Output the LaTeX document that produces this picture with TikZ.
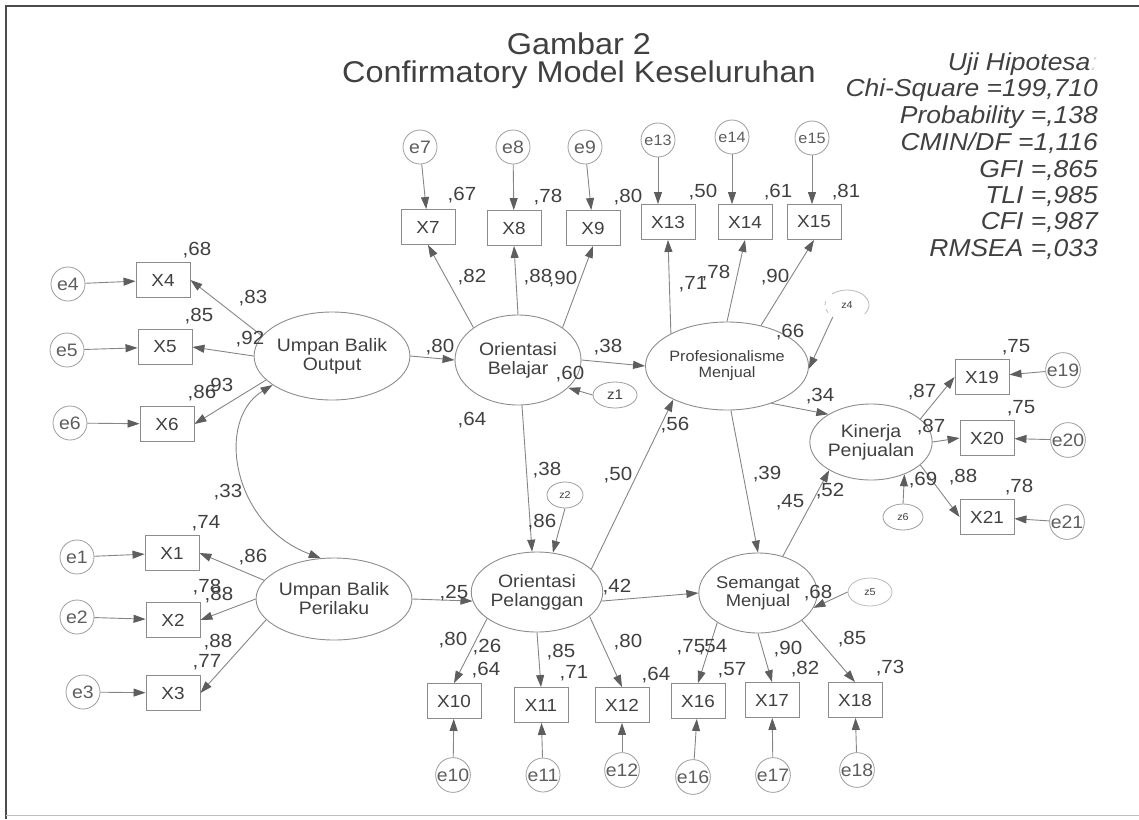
\documentclass[tikz,border=0pt]{standalone}
\usepackage{fontspec}
\setmainfont[FakeStretch=1.08]{Liberation Sans}
\usetikzlibrary{shapes.geometric,arrows.meta}
\definecolor{txt}{HTML}{404040}
\definecolor{ln}{HTML}{858585}
\definecolor{hd}{HTML}{5E5E5E}
\definecolor{bd}{HTML}{8C8C8C}
\begin{document}
\begin{tikzpicture}[x=1pt,y=-1pt,
 box/.style={draw=bd, line width=0.9pt, minimum width=54pt, minimum height=35pt, inner sep=0pt, font=\fontsize{17.5}{18}\selectfont, text=txt},
 err/.style={circle, draw=bd!85, line width=0.8pt, minimum size=34pt, inner sep=0pt, font=\fontsize{18}{18}\selectfont, text=txt!85},
 lat/.style={ellipse, draw=bd, line width=0.9pt, inner sep=0pt, align=center, font=\fontsize{18}{19}\selectfont, text=txt},
 res/.style={ellipse, draw=bd!85, line width=0.8pt, inner sep=0pt, font=\fontsize{10}{10}\selectfont, text=txt},
 lab/.style={inner sep=0pt, text height=14pt, text depth=0pt, font=\fontsize{19}{19}\selectfont, text=txt},
 stat/.style={inner sep=0pt, anchor=base east, font=\fontsize{24.5}{25}\selectfont\itshape, text=txt},
 arr/.style={draw=ln, line width=0.9pt, -{Triangle[length=12pt,width=8pt,color=hd]}},
 dblarr/.style={draw=ln, line width=0.9pt, {Triangle[length=12pt,width=8pt,color=hd]}-{Triangle[length=12pt,width=8pt,color=hd]}}
 ]
\useasboundingbox (0,0) rectangle (1139,819);
% frame
\draw[draw=black!70, line width=1.6pt] (1139,6) -- (6,6) -- (6,819);
\draw[draw=black!25, line width=1pt] (6,815) -- (1139,815);

% title
\node[inner sep=0pt, anchor=base, font=\fontsize{30}{30}\selectfont, text=txt] (t1) at (579,54) {Gambar 2};
\node[inner sep=0pt, anchor=base, font=\fontsize{30}{30}\selectfont, text=txt] (t2) at (579,82) {Confirmatory Model Keseluruhan};

% statistics
\node[stat] (s1) at (1098,70) {Uji Hipotesa\textcolor{black!15}{ :}};
\node[stat] (s2) at (1098,96) {Chi-Square =199,710};
\node[stat] (s3) at (1098,123) {Probability =,138};
\node[stat] (s4) at (1098,150) {CMIN/DF =1,116};
\node[stat] (s5) at (1098,177) {GFI =,865};
\node[stat] (s6) at (1098,203) {TLI =,985};
\node[stat] (s7) at (1098,229) {CFI =,987};
\node[stat] (s8) at (1098,256) {RMSEA =,033};

% observed boxes
\node[box] (X4) at (163,280) {X4};
\node[box] (X5) at (165,347) {X5};
\node[box] (X6) at (167,424) {X6};
\node[box] (X1) at (172,553) {X1};
\node[box] (X2) at (173,620) {X2};
\node[box] (X3) at (173,693) {X3};
\node[box] (X7) at (428,227) {X7};
\node[box] (X8) at (514,228) {X8};
\node[box] (X9) at (593,228) {X9};
\node[box] (X13) at (668,222) {X13};
\node[box] (X14) at (745,222) {X14};
\node[box] (X15) at (814,222) {X15};
\node[box] (X19) at (982,377) {X19};
\node[box] (X20) at (987,438) {X20};
\node[box] (X21) at (987,517) {X21};
\node[box] (X10) at (454,701) {X10};
\node[box] (X11) at (541,705) {X11};
\node[box] (X12) at (622,705) {X12};
\node[box] (X16) at (698,701) {X16};
\node[box] (X17) at (772,700) {X17};
\node[box] (X18) at (855,700) {X18};

% error circles
\node[err] (e4) at (68,284) {e4};
\node[err] (e5) at (67,350) {e5};
\node[err] (e6) at (70,423) {e6};
\node[err] (e1) at (77,557) {e1};
\node[err] (e2) at (77,617) {e2};
\node[err] (e3) at (83,692) {e3};
\node[err] (e7) at (420,147) {e7};
\node[err] (e8) at (513,147) {e8};
\node[err] (e9) at (585,147) {e9};
\node[err, font=\fontsize{15}{15}\selectfont] (e13) at (658,140) {e13};
\node[err, font=\fontsize{15}{15}\selectfont] (e14) at (732,137) {e14};
\node[err, font=\fontsize{15}{15}\selectfont] (e15) at (812,138) {e15};
\node[err] (e19) at (1063,370) {e19};
\node[err] (e20) at (1068,440) {e20};
\node[err] (e21) at (1067,522) {e21};
\node[err] (e10) at (453,775) {e10};
\node[err] (e11) at (543,775) {e11};
\node[err] (e12) at (622,770) {e12};
\node[err] (e16) at (693,777) {e16};
\node[err] (e17) at (773,775) {e17};
\node[err] (e18) at (857,770) {e18};

% latent variables
\node[lat, minimum width=116pt, minimum height=88pt] (UBO) at (332,356) {Umpan Balik\\Output};
\node[lat, minimum width=132pt, minimum height=82pt] (UBP) at (334,599) {Umpan Balik\\Perilaku};
\node[lat, minimum width=126pt, minimum height=90pt] (OB) at (518,360) {Orientasi\\Belajar};
\node[lat, minimum width=138pt, minimum height=88pt, font=\fontsize{15}{16}\selectfont] (PM) at (727,366) {Profesionalisme\\Menjual};
\node[lat, minimum width=126pt, minimum height=80pt] (OP) at (537,592) {Orientasi\\Pelanggan};
\node[lat, minimum width=114pt, minimum height=80pt, font=\fontsize{17}{18}\selectfont] (SM) at (758,593) {Semangat\\Menjual};
\node[lat, minimum width=108pt, minimum height=76pt] (KP) at (871,442) {Kinerja\\Penjualan};

% residuals
\node[res, minimum width=44pt, minimum height=26pt, font=\fontsize{14}{14}\selectfont] (z1) at (615,395) {z1};
\node[res, minimum width=36pt, minimum height=26pt] (z2) at (565,495) {z2};
\node[res, minimum width=44pt, minimum height=30pt, draw=bd!60, dash pattern=on 45pt off 10pt on 4pt off 4pt on 4pt off 40pt] (z4) at (847,305) {z4};
\node[res, minimum width=44pt, minimum height=28pt, draw=bd!60] (z5) at (870,592) {z5};
\node[res, minimum width=40pt, minimum height=26pt] (z6) at (903,517) {z6};

% error arrows
\foreach \a/\b in {e4/X4,e5/X5,e6/X6,e1/X1,e2/X2,e3/X3,e7/X7,e8/X8,e9/X9,e19/X19,e20/X20,e21/X21,e10/X10,e11/X11,e12/X12,e16/X16,e17/X17,e18/X18}
  \draw[arr] (\a) -- (\b);
\draw[arr] (e13) -- (e13 |- X13.north);
\draw[arr] (e14) -- (e14 |- X14.north);
\draw[arr] (e15) -- (e15 |- X15.north);

% loadings
\foreach \a/\b in {UBO.164/X4.east, UBO.west/X5.east, UBO.200/X6.east, UBP.165/X1.east, UBP.west/X2.east, UBP.197/X3.east, OB.144/X7.south, OB.north/X8.south, OB.36/X9.south, PM.150/X13.south, PM.north/X14.south, PM.50/X15.south, KP.25/X19.west, KP.east/X20.west, KP.335/X21.west, OP.208/X10.north, OP.south/X11.north, OP.335/X12.north, SM.216/X16.north, SM.south/X17.north, SM.328/X18.north}
  \draw[arr] (\a) -- (\b);

% structural paths
\foreach \a/\b in {UBO.east/OB.west, UBP.east/OP.188, OB.east/PM.west, OB.275/OP.97, OP.23/PM.212, OP.352/SM.west, PM.275/SM.north, SM.56/KP.214, PM.320/KP.147, z1.west/OB.331, z2.south/OP.68, z4.220/PM.358, z5.west/SM.345, z6.north/KP.316}
  \draw[arr] (\a) -- (\b);

% covariance
\draw[dblarr] (UBO.206) .. controls (215,420) and (232,525) .. (UBP.108);

% estimates
\node[lab] (l1) at (197,248) {,68};
\node[lab] (l2) at (253,296) {,83};
\node[lab] (l3) at (199,314) {,85};
\node[lab] (l4) at (250,337) {,92};
\node[lab] (l5) at (202,391) {,86};
\node[lab] (l6) at (219,384) {,93};
\node[lab] (l7) at (228,490) {,33};
\node[lab] (l8) at (206,521) {,74};
\node[lab] (l9) at (253,555) {,86};
\node[lab] (l10) at (207,585) {,78};
\node[lab] (l11) at (219,593) {,88};
\node[lab] (l12) at (218,640) {,88};
\node[lab] (l13) at (207,660) {,77};
\node[lab] (l14) at (462,193) {,67};
\node[lab] (l15) at (548,195) {,78};
\node[lab] (l16) at (628,195) {,80};
\node[lab] (l17) at (703,190) {,50};
\node[lab] (l18) at (778,190) {,61};
\node[lab] (l19) at (846,190) {,81};
\node[lab] (l20) at (472,275) {,82};
\node[lab] (l21) at (538,275) {,88};
\node[lab] (l22) at (563,277) {,90};
\node[lab] (l23) at (693,282) {,71};
\node[lab] (l24) at (716,271) {,78};
\node[lab] (l25) at (775,275) {,90};
\node[lab] (l26) at (790,330) {,66};
\node[lab] (l27) at (440,345) {,80};
\node[lab] (l28) at (608,345) {,38};
\node[lab] (l29) at (570,372) {,60};
\node[lab] (l30) at (472,418) {,64};
\node[lab] (l31) at (675,423) {,56};
\node[lab] (l32) at (547,468) {,38};
\node[lab] (l33) at (542,520) {,86};
\node[lab] (l34) at (618,473) {,50};
\node[lab] (l35) at (767,472) {,39};
\node[lab] (l36) at (790,500) {,45};
\node[lab] (l37) at (820,394) {,34};
\node[lab] (l38) at (922,390) {,87};
\node[lab] (l39) at (1016,345) {,75};
\node[lab] (l40) at (931,425) {,87};
\node[lab] (l41) at (1021,406) {,75};
\node[lab] (l42) at (923,478) {,69};
\node[lab] (l43) at (963,475) {,88};
\node[lab] (l44) at (1019,485) {,78};
\node[lab] (l45) at (830,489) {,52};
\node[lab] (l46) at (454,591) {,25};
\node[lab] (l47) at (617,585) {,42};
\node[lab] (l48) at (453,638) {,80};
\node[lab] (l49) at (487,645) {,26};
\node[lab] (l50) at (486,668) {,64};
\node[lab] (l51) at (561,650) {,85};
\node[lab] (l52) at (574,671) {,71};
\node[lab] (l53) at (628,640) {,80};
\node[lab] (l54) at (656,673) {,64};
\node[lab] (l55) at (691,645) {,75};
\node[lab] (l56) at (713,645) {,54};
\node[lab] (l57) at (732,668) {,57};
\node[lab] (l58) at (788,647) {,90};
\node[lab] (l59) at (805,667) {,82};
\node[lab] (l60) at (852,637) {,85};
\node[lab] (l61) at (890,666) {,73};
\node[lab] (l62) at (818,591) {,68};
\end{tikzpicture}
\end{document}
